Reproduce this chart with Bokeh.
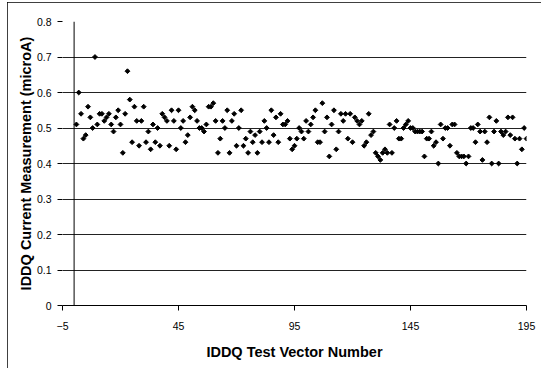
import math
from bokeh.plotting import figure
from bokeh.models import Range1d, FixedTicker, CustomJSTickFormatter, Span, ColumnDataSource
from bokeh.embed import file_html
from bokeh.resources import INLINE

# ---- data ----
vector_number = list(range(1, 196))
iddq_current = [
    0.51, 0.60, 0.54, 0.47, 0.48, 0.56, 0.53, 0.50, 0.70, 0.51,
    0.54, 0.54, 0.52, 0.53, 0.54, 0.51, 0.49, 0.53, 0.55, 0.51,
    0.43, 0.54, 0.66, 0.58, 0.46, 0.56, 0.52, 0.45, 0.52, 0.56,
    0.46, 0.49,
    0.44, 0.51, 0.46, 0.50, 0.45, 0.54, 0.53, 0.52, 0.45, 0.55,
    0.52, 0.44, 0.55, 0.50, 0.52, 0.46, 0.48, 0.53, 0.56, 0.55,
    0.52, 0.50, 0.50, 0.49, 0.51, 0.56, 0.56, 0.57, 0.52, 0.43,
    0.47, 0.52,
    0.50, 0.55, 0.43, 0.52, 0.54, 0.45, 0.50, 0.55, 0.45, 0.47,
    0.43, 0.49, 0.46, 0.48, 0.43, 0.49, 0.46, 0.52, 0.50, 0.46,
    0.55, 0.48, 0.53, 0.46, 0.54, 0.51, 0.51, 0.52, 0.47, 0.44,
    0.45, 0.47, 0.50, 0.49,
    0.47, 0.52, 0.49, 0.51, 0.53, 0.55, 0.46, 0.46, 0.57, 0.49,
    0.53, 0.42, 0.51, 0.55, 0.44, 0.49, 0.54, 0.52, 0.54, 0.47,
    0.54, 0.46, 0.53, 0.52, 0.51, 0.52, 0.45, 0.46, 0.54, 0.48,
    0.49, 0.43,
    0.42, 0.41, 0.43, 0.44, 0.43, 0.51, 0.43, 0.50, 0.52, 0.47,
    0.47, 0.50, 0.51, 0.52, 0.50, 0.50, 0.49, 0.49, 0.49, 0.49,
    0.42, 0.47, 0.47, 0.49, 0.45, 0.46, 0.40, 0.51, 0.47, 0.50,
    0.50, 0.45, 0.51, 0.51,
    0.43, 0.42, 0.42, 0.42, 0.40, 0.42, 0.50, 0.50, 0.46, 0.51,
    0.49, 0.41, 0.49, 0.46, 0.53, 0.40, 0.49, 0.52, 0.40, 0.49,
    0.48, 0.49, 0.53, 0.48, 0.53, 0.47, 0.40, 0.47, 0.44, 0.50,
    0.47,
]
x_ticks = [-5, 45, 95, 145, 195]
y_ticks = [0, 0.1, 0.2, 0.3, 0.4, 0.5, 0.6, 0.7, 0.8]
x_title = "IDDQ Test Vector Number"
y_title = "IDDQ Current Measurement (microA)"

FONT = "Liberation Sans"

p = figure(width=534, height=366, output_backend="svg", toolbar_location=None,
           x_range=Range1d(-5, 195), y_range=Range1d(0, 0.8),
           min_border_left=55, min_border_right=15, min_border_top=19, min_border_bottom=63)
p.styles = {"outline": "1px solid #000", "outline-offset": "-1px",
            "margin-left": "7px", "margin-top": "2px"}
p.outline_line_color = None
p.background_fill_color = "white"
p.border_fill_color = "white"

src = ColumnDataSource(dict(x=vector_number, y=iddq_current))
p.scatter("x", "y", source=src, marker="square", angle=math.pi / 4, size=3.4,
          color="black")

# grid
p.xgrid.grid_line_color = None
p.ygrid.ticker = FixedTicker(ticks=y_ticks)
p.ygrid.grid_line_color = "#222222"
p.ygrid.grid_line_width = 1

# vertical axis crossing at x = 0
p.add_layout(Span(location=0, dimension="height", line_color="black", line_width=1))

# x axis
xa = p.xaxis[0]
xa.ticker = FixedTicker(ticks=x_ticks)
xa.axis_line_color = "black"
xa.major_tick_line_color = "black"
xa.major_tick_out = 5
xa.major_tick_in = 0
xa.minor_tick_line_color = None
xa.major_label_standoff = 11
xa.major_label_text_font = FONT
xa.major_label_text_font_size = "10.5px"
xa.major_label_text_color = "black"
xa.axis_label = x_title
xa.axis_label_text_font = FONT
xa.axis_label_text_font_style = "bold"
xa.axis_label_text_font_size = "14.5px"
xa.axis_label_text_color = "black"
xa.axis_label_standoff = 11

# y axis
ya = p.yaxis[0]
ya.ticker = FixedTicker(ticks=y_ticks)
ya.formatter = CustomJSTickFormatter(code="return tick == 0 ? '0' : tick.toFixed(1);")
ya.axis_line_color = None
ya.major_tick_line_color = "black"
ya.major_tick_out = 5
ya.major_tick_in = 0
ya.minor_tick_line_color = None
ya.major_label_standoff = 6
ya.major_label_text_font = FONT
ya.major_label_text_font_size = "10.5px"
ya.major_label_text_color = "black"
ya.axis_label = y_title
ya.axis_label_text_font = FONT
ya.axis_label_text_font_style = "bold"
ya.axis_label_text_font_size = "14.5px"
ya.axis_label_text_color = "black"
ya.axis_label_standoff = 0

open("out.html", "w").write(file_html(p, INLINE))
